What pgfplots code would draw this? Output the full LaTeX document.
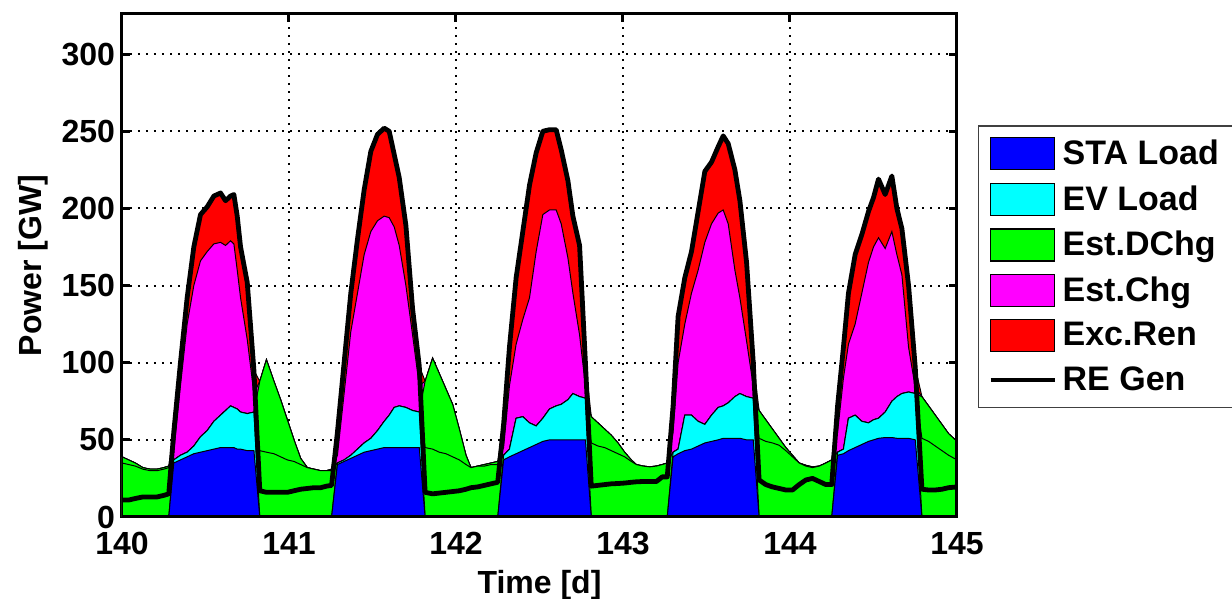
\documentclass[border=0pt]{standalone}
\usepackage{fontspec}
\setmainfont{Liberation Sans}
\usepackage{pgfplots}
\usepackage{pgfplotstable}
\pgfplotsset{compat=1.18}

\definecolor{mblue}{rgb}{0,0,1}
\definecolor{mcyan}{rgb}{0,1,1}
\definecolor{mgreen}{rgb}{0,1,0}
\definecolor{mmagenta}{rgb}{1,0,1}
\definecolor{mred}{rgb}{1,0,0}

% cumulative tops of the stacked layers: STA, EV, DChg (thin split), DChg, Chg, Exc; RE = generation line
\pgfplotstableread{
t       sta   ev    dchA  dchg  chg   exc   re
140.00  0     0     35    39    39    39    11
140.04  0     0     34    37    37    37    11
140.08  0     0     33    35    35    35    12
140.125 0     0     31    32    32    32    13
140.17  0     0     30    31    31    31    13
140.21  0     0     30    31    31    31    13
140.25  0     0     31    32    32    32    14
140.28  0     0     32    33    33    33    15
140.31  35    37    37    37    42    55    55
140.35  37    40    40    40    85    100   100
140.39  39    42    42    42    125   142   142
140.43  41    46    46    46    150   175   175
140.47  42    52    52    52    166   196   196
140.51  43    56    56    56    172   201   201
140.55  44    62    62    62    177   208   208
140.59  45    66    66    66    178   210   210
140.62  45    69    69    69    176   205   205
140.65  45    72    72    72    179   208   208
140.67  45    71    71    71    177   209   209
140.69  44    70    70    70    160   195   195
140.71  44    68    68    68    142   175   175
140.75  43    67    67    67    115   152   152
140.79  43    68    68    68    80    95    95
140.825 0     0     43    88    88    88    17
140.865 0     0     42    102   102   102   16
140.91  0     0     41    88    88    88    16
140.95  0     0     39    76    76    76    16
140.99  0     0     37    63    63    63    16
141.03  0     0     36    50    50    50    17
141.07  0     0     34    38    38    38    18
141.11  0     0     32    32    32    32    18.5
141.15  0     0     31    31    31    31    19
141.19  0     0     30    30    30    30    19
141.225 0     0     30    30    30    30    20
141.255 0     0     30    31    31    31    20.5
141.29  34    35    35    35    40    55    55
141.33  36    37    37    37    80    100   100
141.37  38    40    40    40    120   145   145
141.41  40    44    44    44    145   180   180
141.45  42    48    48    48    170   212   212
141.49  43    51    51    51    185   237   237
141.53  44    56    56    56    192   248   248
141.57  45    62    62    62    195   252   252
141.60  45    66    66    66    194   250   250
141.63  45    71    71    71    188   235   235
141.66  45    72    72    72    176   220   220
141.70  45    71    71    71    150   189   189
141.74  45    69    69    69    118   135   135
141.78  45    68    68    68    85    98    98
141.815 0     0     45    88    88    88    16
141.86  0     0     44    103   103   103   15
141.90  0     0     42    93    93    93    15.5
141.94  0     0     41    83    83    83    16
141.98  0     0     39    73    73    73    16.5
142.02  0     0     37    57    57    57    17
142.06  0     0     34    40    40    40    18
142.09  0     0     32    32    32    32    19
142.13  0     0     33    33    33    33    19.5
142.17  0     0     33    34    34    34    20.5
142.21  0     0     34    35    35    35    21.5
142.25  0     0     34    36    36    36    22.5
142.285 37    40    40    40    45    60    60
142.32  39    44    44    44    85    110   110
142.36  41    64    64    64    112   155   155
142.40  43    65    65    65    128   185   185
142.44  45    61    61    61    142   215   215
142.48  47    59    59    59    172   236   236
142.52  49    64    64    64    196   250   250
142.56  50    70    70    70    199   251   251
142.60  50    72    72    72    199   251   251
142.63  50    73    73    73    190   238   238
142.67  50    76    76    76    168   218   218
142.70  50    80    80    80    145   195   195
142.74  50    78    78    78    118   176   176
142.775 50    77    77    77    85    100   100
142.81  0     0     48    65    65    65    20
142.85  0     0     46    61    61    61    20.5
142.89  0     0     45    57    57    57    21
142.93  0     0     43    53    53    53    21.5
142.97  0     0     41    48    48    48    21.7
143.01  0     0     39    42    42    42    22
143.05  0     0     36    37    37    37    22.5
143.08  0     0     34    34    34    34    22.8
143.12  0     0     33    33    33    33    23
143.16  0     0     32.5  32.5  32.5  32.5  23
143.20  0     0     33    33    33    33    23
143.235 0     0     34    34    34    34    26
143.265 0     0     35    35    35    35    26
143.30  39    42    42    42    55    72    72
143.33  41    44    44    44    100   130   130
143.37  43    66    66    66    125   155   155
143.41  44    66    66    66    145   172   172
143.45  46    62    62    62    160   198   198
143.49  48    60    60    60    178   224   224
143.53  49    66    66    66    190   230   230
143.57  50    71    71    71    197   240   240
143.60  51    72    72    72    199   247   247
143.63  51    74    74    74    190   242   242
143.67  51    78    78    78    160   225   225
143.70  51    80    80    80    142   205   205
143.74  50    78    78    78    114   165   165
143.78  50    77    77    77    85    100   100
143.815 0     0     51    69    69    69    24
143.855 0     0     49    63    63    63    21
143.895 0     0     48    57    57    57    19.5
143.935 0     0     46.5  51    51    51    18.5
143.975 0     0     43    45    45    45    17.5
144.015 0     0     39    40    40    40    17.5
144.055 0     0     35    35    35    35    21
144.095 0     0     33    33.5  33.5  33.5  24
144.135 0     0     32    32.5  32.5  32.5  25
144.175 0     0     33    33    33    33    23
144.215 0     0     35    35    35    35    21
144.25  0     0     37    37    37    37    21
144.285 40    42    42    42    55    72    72
144.32  41    44    44    44    90    110   110
144.35  43    64    64    64    112   145   145
144.39  45    66    66    66    125   170   170
144.43  47    62    62    62    145   183   183
144.47  49    61    61    61    165   198   198
144.50  50    63    63    63    175   207   207
144.53  51    64    64    64    181   219   219
144.57  51.5  68    68    68    174   209   209
144.61  51.5  75    75    75    185   221   221
144.64  51    78    78    78    170   200   200
144.67  51    80    80    80    157   187   187
144.71  51    81    81    81    110   150   150
144.75  50    80    80    80    84    97    97
144.79  0     0     51    78    78    78    18
144.83  0     0     49    72    72    72    17.5
144.87  0     0     46    66    66    66    17.5
144.91  0     0     43    60    60    60    18
144.95  0     0     40    54    54    54    19
145.00  0     0     37    49    49    49    19.5
}\powerdata

\pgfplotsset{
  boxleg/.style={legend image code/.code={\draw[line width=0.6pt,draw=black,fill=#1] (0pt,-8pt) rectangle (32pt,8pt);}},
  lineleg/.style={legend image code/.code={\draw[line width=2pt,black] (0pt,0pt) -- (32pt,0pt);}},
  layer/.style={fill=#1, draw=black, line width=0.5pt, forget plot},
}

\begin{document}
\begin{tikzpicture}
\begin{axis}[
    scale only axis,
    width=417.5pt,
    height=251.5pt,
    xmin=140, xmax=145,
    ymin=0, ymax=326,
    xtick={140,141,142,143,144,145},
    ytick={0,50,100,150,200,250,300},
    tick align=inside,
    major tick length=4pt,
    tick style={line width=1.5pt, black},
    axis line style={line width=1.5pt},
    grid=major,
    grid style={black, line width=1pt, dash pattern=on 1pt off 3pt},
    /pgf/number format/assume math mode=true,
    ticklabel style={font=\fontsize{16}{16}\selectfont\bfseries},
    xticklabel style={yshift=-4pt},
    label style={font=\fontsize{16}{16}\selectfont\bfseries},
    xlabel={Time [d]},
    ylabel={Power [GW]},
    xlabel style={yshift=-1pt},
    legend cell align=left,
    legend style={
        at={(1.025,0.779)}, anchor=north west,
        font=\fontsize{17}{17}\selectfont\bfseries,
        draw=black!75, line width=0.8pt,
        inner xsep=5pt, inner ysep=4pt,
        row sep=3pt,
        nodes={inner sep=3pt},
    },
]
\addplot[layer=mred] table[x=t, y=exc] {\powerdata} \closedcycle;
\addplot[layer=mmagenta] table[x=t, y=chg] {\powerdata} \closedcycle;
\addplot[layer=mgreen] table[x=t, y=dchg] {\powerdata} \closedcycle;
\addplot[layer=mgreen] table[x=t, y=dchA] {\powerdata} \closedcycle;
\addplot[layer=mcyan] table[x=t, y=ev] {\powerdata} \closedcycle;
\addplot[layer=mblue] table[x=t, y=sta] {\powerdata} \closedcycle;
\addplot[black, line width=2.4pt, line join=round, forget plot] table[x=t, y=re] {\powerdata};
\draw[line width=1.5pt] (rel axis cs:0,0) rectangle (rel axis cs:1,1);

\addlegendimage{boxleg=mblue}
\addlegendentry{STA Load}
\addlegendimage{boxleg=mcyan}
\addlegendentry{EV Load}
\addlegendimage{boxleg=mgreen}
\addlegendentry{Est.DChg}
\addlegendimage{boxleg=mmagenta}
\addlegendentry{Est.Chg}
\addlegendimage{boxleg=mred}
\addlegendentry{Exc.Ren}
\addlegendimage{lineleg}
\addlegendentry{RE Gen}
\end{axis}
\pgfresetboundingbox
\path[use as bounding box] (current axis.south west) ++(-61pt,-41pt) rectangle ++(616pt,299.5pt);
\end{tikzpicture}
\end{document}
